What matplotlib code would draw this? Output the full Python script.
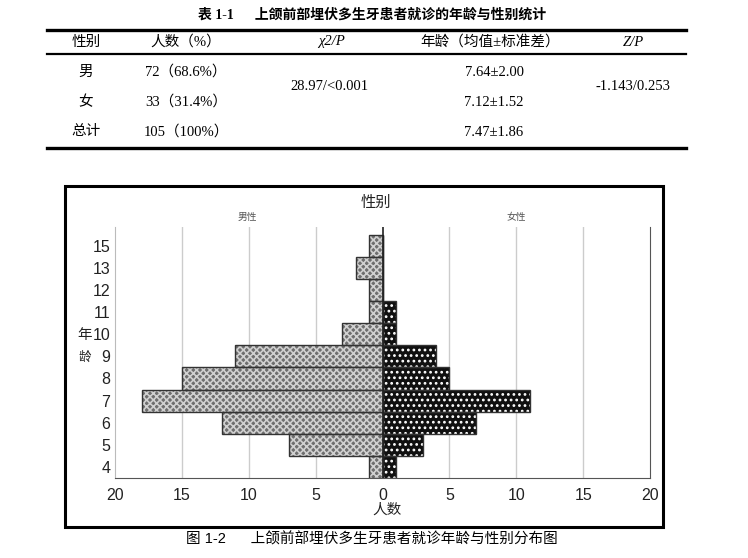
import matplotlib.pyplot as plt
import matplotlib.patches as mpatches
from matplotlib.lines import Line2D

plt.rcParams['font.family'] = ['Liberation Sans', 'Noto Sans CJK SC']

# ---- data ----
ages = ['4', '5', '6', '7', '8', '9', '10', '11', '12', '13', '15']
male = [1, 7, 12, 18, 15, 11, 3, 1, 1, 2, 1]
female = [1, 3, 7, 11, 5, 4, 1, 1, 0, 0, 0]

tbl_header = ['性别', '人数（%）', 'χ2/P', '年龄（均值±标准差）', 'Z/P']
tbl_sex = ['男', '女', '总计']
tbl_count = ['72（68.6%）', '33（31.4%）', '105（100%）']
tbl_age = ['7.64±2.00', '7.12±1.52', '7.47±1.86']
tbl_chi = '28.97/<0.001'
tbl_z = '-1.143/0.253'

W, H = 748, 558
fig = plt.figure(figsize=(W / 100, H / 100), dpi=100)

def fx(x):
    return x / W

def fy(y):
    return 1 - y / H

serif = ['Liberation Serif', 'Noto Sans CJK SC']

# ---- table ----
fig.text(fx(372), fy(15), '表 1-1      上颌前部埋伏多生牙患者就诊的年龄与性别统计',
         ha='center', va='center', fontsize=10, fontweight='bold', family=serif)
for y, lw in [(30, 2.4), (54, 1.6), (148, 2.4)]:
    fig.add_artist(Line2D([fx(47), fx(686)], [fy(y), fy(y)], color='black', lw=lw))

col_x = [86, 186, 332, 490, 633]
for x, t in zip(col_x, tbl_header):
    style = 'italic' if '/' in t else 'normal'
    fig.text(fx(x), fy(42), t, ha='center', va='center', fontsize=10.5,
             family=serif, style=style)
row_y = [72, 102, 132]
for i, y in enumerate(row_y):
    fig.text(fx(col_x[0]), fy(y), tbl_sex[i], ha='center', va='center', fontsize=10.5, family=serif)
    fig.text(fx(col_x[1]), fy(y), tbl_count[i], ha='center', va='center', fontsize=10.5, family=serif)
    fig.text(fx(494), fy(y), tbl_age[i], ha='center', va='center', fontsize=10.5, family=serif)
fig.text(fx(329), fy(87), tbl_chi, ha='center', va='center', fontsize=10.5, family=serif)
fig.text(fx(633), fy(87), tbl_z, ha='center', va='center', fontsize=10.5, family=serif)

# ---- chart frame ----
fig.add_artist(mpatches.Rectangle((fx(65), fy(527)), fx(663) - fx(65), fy(186) - fy(527),
                                  fill=False, edgecolor='black', lw=2.2))

ax = fig.add_axes([fx(115), fy(478), fx(650) - fx(115), fy(227) - fy(478)])
pos = list(range(len(ages)))
neg_male = [-v for v in male]

plt.rcParams['hatch.linewidth'] = 1.2
ax.barh(pos, neg_male, height=1.0, color='#6e6e6e', edgecolor='#d0d0d0',
        hatch='xxxxx', lw=0, zorder=3)
ax.barh(pos, neg_male, height=1.0, fill=False, edgecolor='#333333', lw=1.0, zorder=4)
ax.barh(pos, female, height=1.0, color='#101010', edgecolor='white',
        hatch='...', lw=0, zorder=3)
ax.barh(pos, female, height=1.0, fill=False, edgecolor='#333333', lw=1.0, zorder=4)

ax.set_xlim(-20, 20)
ax.set_ylim(-0.5, 10.85)
ax.set_xticks([-20, -15, -10, -5, 0, 5, 10, 15, 20])
ax.set_xticklabels(['20', '15', '10', '5', '0', '5', '10', '15', '20'])
ax.set_yticks(pos)
ax.set_yticklabels(ages)
ax.tick_params(length=0, labelsize=11.5, colors='#222222')
ax.tick_params(axis='x', pad=7)
for x in [-15, -10, -5, 5, 10, 15]:
    ax.axvline(x, color='#cccccc', lw=1, zorder=1)
ax.axvline(0, color='#222222', lw=1.2, zorder=5)
ax.spines['top'].set_visible(False)
ax.spines['left'].set_color('#bbbbbb')
ax.spines['right'].set_color('#555555')
ax.spines['bottom'].set_color('#555555')

fig.text(fx(376), fy(203), '性别', ha='center', va='center', fontsize=11, color='#222222')
fig.text(fx(247), fy(217), '男性', ha='center', va='center', fontsize=7, color='#555555')
fig.text(fx(516), fy(217), '女性', ha='center', va='center', fontsize=7, color='#555555')
fig.text(fx(85), fy(335), '年', ha='center', va='center', fontsize=10.5, color='#222222')
fig.text(fx(85), fy(358), '龄', ha='center', va='center', fontsize=9, color='#222222')
fig.text(fx(387), fy(510), '人数', ha='center', va='center', fontsize=10.5, color='#222222')

fig.text(fx(372), fy(539), '图 1-2      上颌前部埋伏多生牙患者就诊年龄与性别分布图',
         ha='center', va='center', fontsize=10.5, color='black')

fig.savefig('out.png', dpi=100)
